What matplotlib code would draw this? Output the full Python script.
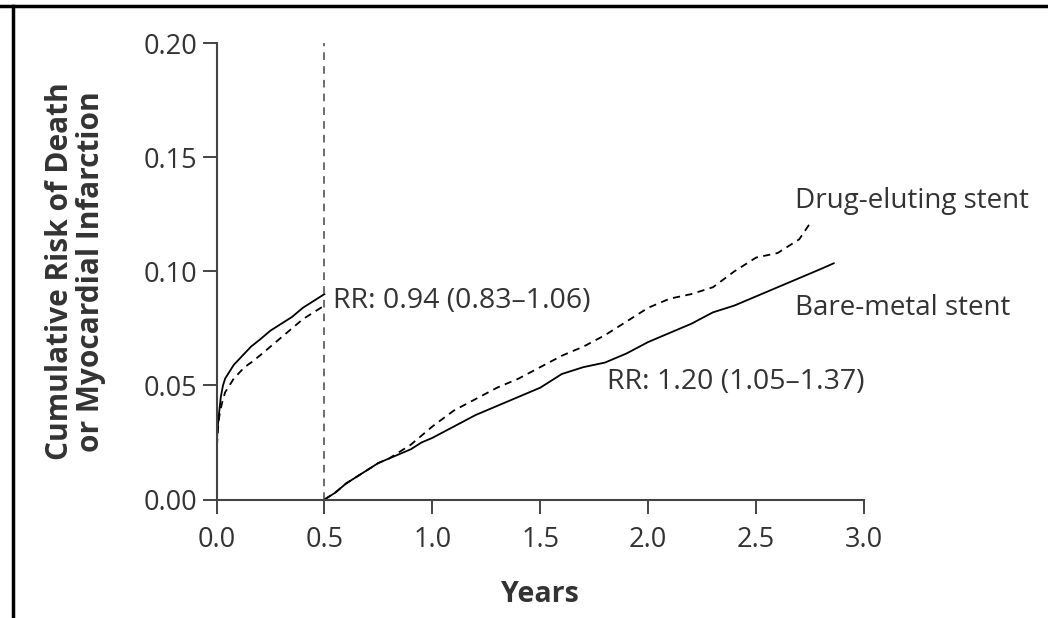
import matplotlib
matplotlib.use("Agg")
import matplotlib.pyplot as plt
from matplotlib.lines import Line2D

# first 6 months (landmark 0 - 0.5 yr)
t_early = [0, 0.003, 0.007, 0.012, 0.02, 0.03, 0.04, 0.06, 0.08, 0.10, 0.13, 0.16,
           0.20, 0.25, 0.30, 0.35, 0.40, 0.45, 0.50]
bms_early = [0.018, 0.028, 0.033, 0.038, 0.045, 0.050, 0.053, 0.056, 0.059, 0.061, 0.064,
             0.067, 0.070, 0.074, 0.077, 0.080, 0.084, 0.087, 0.090]
des_early = [0.018, 0.025, 0.031, 0.036, 0.040, 0.044, 0.047, 0.050, 0.053, 0.055, 0.058,
             0.060, 0.063, 0.067, 0.071, 0.075, 0.079, 0.082, 0.085]

# after 6 months (landmark 0.5 yr onward)
t_late_bms = [0.5, 0.55, 0.6, 0.65, 0.7, 0.75, 0.8, 0.85, 0.9, 0.95, 1.0, 1.1, 1.2, 1.3,
              1.4, 1.5, 1.6, 1.7, 1.8, 1.9, 2.0, 2.1, 2.2, 2.3, 2.4, 2.5, 2.6, 2.7, 2.75,
              2.8, 2.86]
bms_late = [0, 0.003, 0.007, 0.010, 0.013, 0.016, 0.018, 0.020, 0.022, 0.025, 0.027,
            0.032, 0.037, 0.041, 0.045, 0.049, 0.055, 0.058, 0.060, 0.064, 0.069, 0.073,
            0.077, 0.082, 0.085, 0.089, 0.093, 0.097, 0.099, 0.101, 0.1035]
t_late_des = [0.5, 0.55, 0.6, 0.65, 0.7, 0.75, 0.8, 0.85, 0.9, 0.95, 1.0, 1.1, 1.2, 1.3,
              1.4, 1.5, 1.6, 1.7, 1.8, 1.9, 2.0, 2.1, 2.2, 2.3, 2.4, 2.5, 2.6, 2.7, 2.75]
des_late = [0, 0.003, 0.007, 0.010, 0.013, 0.016, 0.018, 0.021, 0.024, 0.028, 0.032,
            0.039, 0.044, 0.049, 0.053, 0.058, 0.063, 0.067, 0.072, 0.078, 0.084, 0.088,
            0.090, 0.093, 0.100, 0.106, 0.108, 0.114, 0.121]

landmark = 0.5
x_ticks = [0.0, 0.5, 1.0, 1.5, 2.0, 2.5, 3.0]
y_ticks = [0.00, 0.05, 0.10, 0.15, 0.20]

plt.rcParams['font.family'] = ['Open Sans', 'DejaVu Sans']
grey = '#333333'

fig = plt.figure(figsize=(10.48, 6.18), dpi=100)
ax = fig.add_axes([0.2066, 0.1917, 0.6178, 0.7387])

dash = (0, (4, 3))
ax.plot(t_early, bms_early, color='black', lw=1.3)
ax.plot(t_early, des_early, color='black', lw=1.3, ls=dash)
ax.plot(t_late_bms, bms_late, color='black', lw=1.3)
ax.plot(t_late_des, des_late, color='black', lw=1.3, ls=dash)
ax.plot([landmark, landmark], [0, 0.2], color='#444444', lw=1.1, ls=(0, (5, 4)))

ax.set_xlim(0, 3.0)
ax.set_ylim(0, 0.2)
ax.set_xticks(x_ticks)
ax.set_yticks(y_ticks)
ax.set_xticklabels([f'{v:.1f}' for v in x_ticks])
ax.set_yticklabels([f'{v:.2f}' for v in y_ticks])
for s in ['top', 'right']:
    ax.spines[s].set_visible(False)
for s in ['left', 'bottom']:
    ax.spines[s].set_color('#444444')
    ax.spines[s].set_linewidth(1.5)
ax.tick_params(direction='out', length=10, width=1.4, color='#444444',
               labelsize=19.5, labelcolor=grey)
ax.tick_params(axis='x', pad=9)
ax.tick_params(axis='y', pad=4)

ax.set_xlabel('Years', fontsize=20.5, fontweight='bold', color=grey, labelpad=19)
ax.set_ylabel('Cumulative Risk of Death\nor Myocardial Infarction', fontsize=21.5,
              fontweight='bold', color=grey, labelpad=27, linespacing=1.05)

ax.text(0.54, 0.087, 'RR: 0.94 (0.83\u20131.06)', fontsize=20.5, color=grey, va='center')
ax.text(1.81, 0.0515, 'RR: 1.20 (1.05\u20131.37)', fontsize=20.5, color=grey, va='center')
ax.text(2.68, 0.131, 'Drug-eluting stent', fontsize=20, color=grey, va='center',
        clip_on=False)
ax.text(2.68, 0.084, 'Bare-metal stent', fontsize=20, color=grey, va='center',
        clip_on=False)

# outer frame: top and left edges only
fig.add_artist(Line2D([0, 1], [1 - 6 / 618, 1 - 6 / 618], color='black', lw=2.5,
                      transform=fig.transFigure))
fig.add_artist(Line2D([13 / 1048, 13 / 1048], [0, 1 - 6 / 618], color='black', lw=2.5,
                      transform=fig.transFigure))

fig.savefig('out.png', dpi=100)
